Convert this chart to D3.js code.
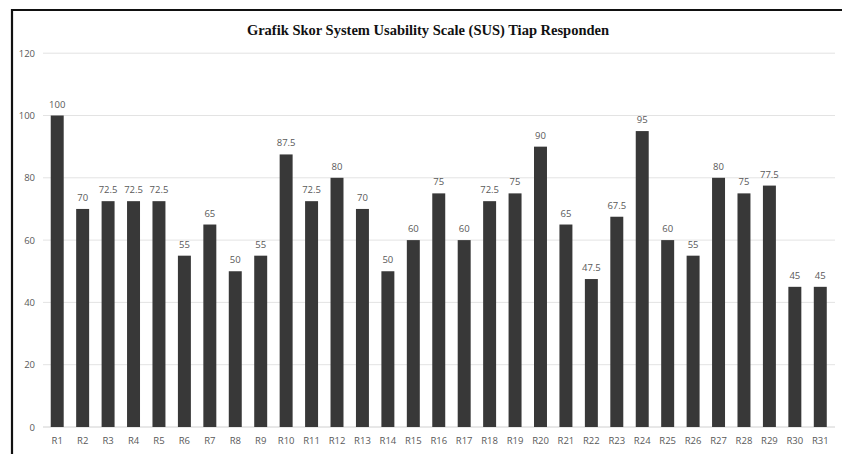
<!DOCTYPE html>
<html><head><meta charset="utf-8">
<script src="https://cdn.jsdelivr.net/npm/d3@7"></script>
<style>body{margin:0;background:#fff}svg{display:block}</style>
</head><body>
<script>
const categories = ["R1","R2","R3","R4","R5","R6","R7","R8","R9","R10","R11","R12","R13","R14","R15","R16","R17","R18","R19","R20","R21","R22","R23","R24","R25","R26","R27","R28","R29","R30","R31"];
const scores = [100,70,72.5,72.5,72.5,55,65,50,55,87.5,72.5,80,70,50,60,75,60,72.5,75,90,65,47.5,67.5,95,60,55,80,75,77.5,45,45];
const yTicks = [0,20,40,60,80,100,120];
const title = "Grafik Skor System Usability Scale (SUS) Tiap Responden";

const W = 842, H = 454;
const svg = d3.select("body").append("svg").attr("width", W).attr("height", H);

// frame
svg.append("line").attr("x1",11).attr("x2",W).attr("y1",10).attr("y2",10).attr("stroke","#111").attr("stroke-width",2.2);
svg.append("line").attr("x1",12).attr("x2",12).attr("y1",9).attr("y2",H).attr("stroke","#111").attr("stroke-width",2.2);

const x = d3.scaleBand().domain(categories).range([44.5, 833]).paddingInner(0.49).paddingOuter(0.245);
const y = d3.scaleLinear().domain([0,120]).range([427, 53.2]);

// grid
svg.append("g").selectAll("line").data(yTicks).join("line")
  .attr("x1",43).attr("x2",835)
  .attr("y1",d=>y(d)).attr("y2",d=>y(d))
  .attr("stroke",d=>d===0?"#d0d0d0":"#e3e3e3").attr("stroke-width",1);

const fontFam = "'Open Sans', sans-serif";
// y axis labels
const yAxis = d3.axisLeft(y).tickValues(yTicks).tickSize(0).tickPadding(0);
const gy = svg.append("g").attr("transform","translate(35,0)").call(yAxis);
gy.select(".domain").remove();
gy.selectAll("text").attr("fill","#595959").style("font-family",fontFam).style("font-size","9.5px");

// x axis labels
const xAxis = d3.axisBottom(x).tickSize(0).tickPadding(0);
const gx = svg.append("g").attr("transform","translate(0,437)").call(xAxis);
gx.select(".domain").remove();
gx.selectAll("text").attr("fill","#595959").style("font-family",fontFam).style("font-size","9.5px");

// bars
svg.append("g").selectAll("rect").data(scores).join("rect")
  .attr("x",(d,i)=>x(categories[i]))
  .attr("width",x.bandwidth())
  .attr("y",d=>y(d))
  .attr("height",d=>y(0)-y(d))
  .attr("fill","#383838");

// value labels
svg.append("g").selectAll("text").data(scores).join("text")
  .attr("x",(d,i)=>x(categories[i])+x.bandwidth()/2)
  .attr("y",d=>y(d)-8)
  .attr("text-anchor","middle")
  .attr("fill","#595959")
  .style("font-family",fontFam).style("font-size","9.5px")
  .text(d=>d);

// title
svg.append("text").attr("x",428).attr("y",35).attr("text-anchor","middle")
  .style("font-family","'Liberation Serif', 'Times New Roman', serif").style("font-weight","bold").style("font-size","14.5px")
  .attr("fill","#111").text(title);
</script>
</body></html>
